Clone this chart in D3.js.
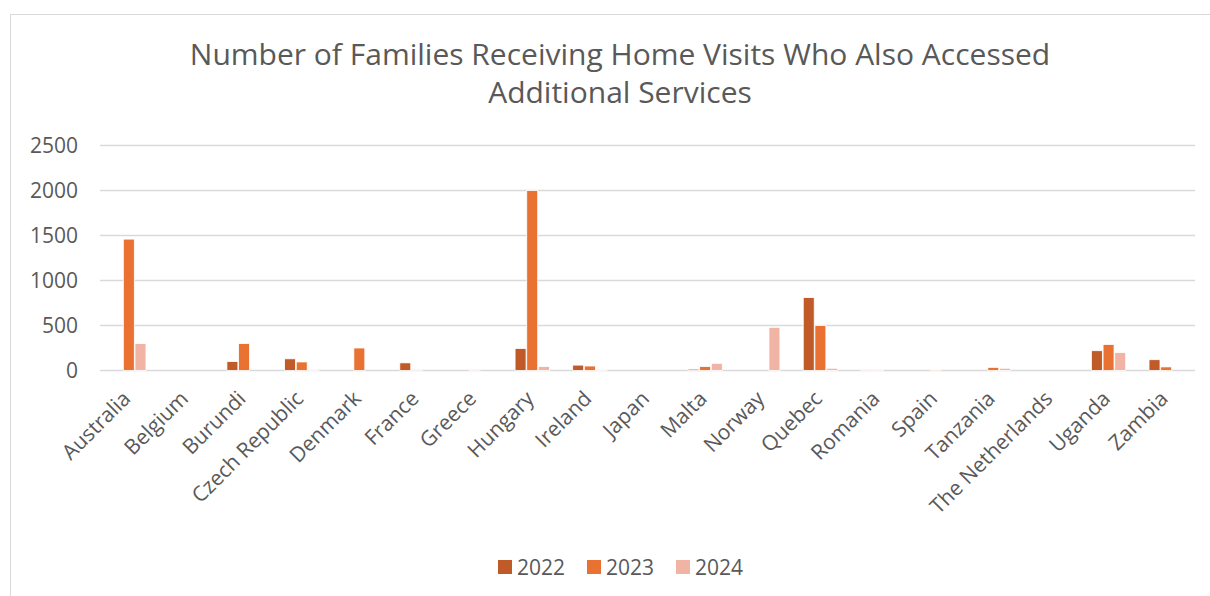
<!DOCTYPE html>
<html>
<head>
<meta charset="utf-8">
<script src="https://cdn.jsdelivr.net/npm/d3@7"></script>
<style>
  html, body { margin: 0; padding: 0; background: #fff; }
  svg { display: block; font-family: "Open Sans", "Noto Sans", sans-serif; }
</style>
</head>
<body>
<svg id="chart" width="1210" height="596"></svg>
<script>
const countries = ["Australia", "Belgium", "Burundi", "Czech Republic", "Denmark", "France", "Greece",
  "Hungary", "Ireland", "Japan", "Malta", "Norway", "Quebec", "Romania", "Spain", "Tanzania",
  "The Netherlands", "Uganda", "Zambia"];
const years = ["2022", "2023", "2024"];
const values2022 = [0, 0, 100, 130, 0, 85, 0, 245, 60, 0, 15, 0, 810, 3, 0, 0, 0, 220, 120];
const values2023 = [1460, 0, 300, 95, 250, 4, 3, 2000, 50, 0, 45, 0, 500, 3, 5, 35, 0, 290, 40];
const values2024 = [300, 0, 0, 4, 0, 0, 0, 45, 10, 0, 80, 480, 25, 0, 0, 25, 0, 200, 0];
const yTicks = [0, 500, 1000, 1500, 2000, 2500];
const colors = ["#C05A28", "#E97132", "#F1B3A4"];
const title = ["Number of Families Receiving Home Visits Who Also Accessed", "Additional Services"];

const series = [values2022, values2023, values2024];
const svg = d3.select("#chart");
const textColor = "#595959";
const font = "'Open Sans', 'Noto Sans', sans-serif";

// chart frame
svg.append("rect").attr("x", 10.5).attr("y", 14.5).attr("width", 1210).attr("height", 590)
  .attr("fill", "none").attr("stroke", "#d9d9d9").attr("stroke-width", 1);

// title
svg.append("g").selectAll("text").data(title).join("text")
  .attr("x", 620).attr("y", (d, i) => 65 + i * 38)
  .attr("text-anchor", "middle").attr("font-size", 30).attr("fill", textColor)
  .text(d => d);

const x = d3.scaleBand().domain(countries).range([100, 1195]).paddingInner(0.38).paddingOuter(0.19);
const xs = d3.scaleBand().domain(years).range([0, x.bandwidth()]).padding(0.06);
const y = d3.scaleLinear().domain([0, 2500]).range([370.5, 145.5]);

// gridlines
svg.append("g").selectAll("line").data(yTicks).join("line")
  .attr("x1", 100).attr("x2", 1195)
  .attr("y1", d => y(d)).attr("y2", d => y(d))
  .attr("stroke", "#d9d9d9").attr("stroke-width", 1.5);

// y axis labels
const yAxis = d3.axisLeft(y).tickValues(yTicks).tickSize(0).tickPadding(0).tickFormat(d3.format("d"));
const yg = svg.append("g").attr("transform", "translate(78,0)").call(yAxis);
yg.select(".domain").remove();
yg.selectAll("text").attr("font-size", 21).attr("fill", textColor).attr("font-family", font);

// bars
const groups = svg.append("g").selectAll("g").data(countries).join("g")
  .attr("transform", d => `translate(${x(d)},0)`);
groups.selectAll("rect")
  .data((c, i) => years.map((yr, k) => ({ yr, k, v: series[k][i] })))
  .join("rect")
  .attr("x", d => xs(d.yr))
  .attr("width", xs.bandwidth())
  .attr("y", d => y(d.v))
  .attr("height", d => y(0) - y(d.v))
  .attr("fill", d => colors[d.k])
  .attr("stroke", "#fff").attr("stroke-width", 0.8);

// x axis labels, rotated 45 degrees
const xAxis = d3.axisBottom(x).tickSize(0).tickPadding(0);
const xg = svg.append("g").attr("transform", "translate(0,380)").call(xAxis);
xg.select(".domain").remove();
xg.selectAll("text")
  .attr("font-size", 21).attr("fill", textColor).attr("font-family", font)
  .attr("text-anchor", "end")
  .attr("x", 0).attr("y", 0).attr("dy", 0)
  .attr("transform", "translate(3,20) rotate(-45)");

// legend
const legend = svg.append("g").selectAll("g").data(years).join("g")
  .attr("transform", (d, i) => `translate(${498 + i * 89},560)`);
legend.append("rect").attr("width", 14).attr("height", 14).attr("fill", (d, i) => colors[i]);
legend.append("text").attr("x", 19).attr("y", 14.5).attr("font-size", 21).attr("fill", textColor)
  .attr("font-family", font).text(d => d);
</script>
</body>
</html>
